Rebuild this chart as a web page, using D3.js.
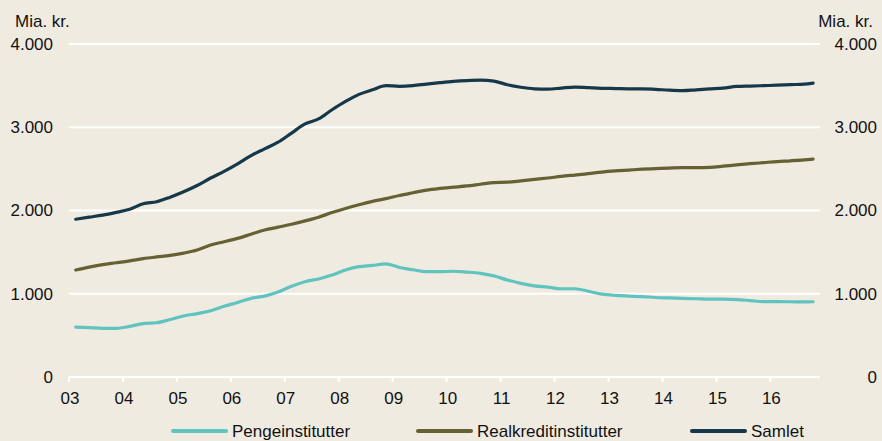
<!DOCTYPE html>
<html>
<head>
<meta charset="utf-8">
<script src="https://cdn.jsdelivr.net/npm/d3@7"></script>
<style>
  body { margin: 0; background: #f0ebe1; }
  text { font-family: "Liberation Sans", Arial, sans-serif; fill: #111; }
</style>
</head>
<body>
<script>
const width = 882;
const height = 441;

// quarterly readings (year-month)
const dates = [
  "2003-02","2003-05","2003-08","2003-11","2004-02","2004-05","2004-08","2004-11",
  "2005-02","2005-05","2005-08","2005-11","2006-02","2006-05","2006-08","2006-11",
  "2007-02","2007-05","2007-08","2007-11","2008-02","2008-05","2008-08","2008-11",
  "2009-02","2009-05","2009-08","2009-11","2010-02","2010-05","2010-08","2010-11",
  "2011-02","2011-05","2011-08","2011-11","2012-02","2012-05","2012-08","2012-11",
  "2013-02","2013-05","2013-08","2013-11","2014-02","2014-05","2014-08","2014-11",
  "2015-02","2015-05","2015-08","2015-11","2016-02","2016-05","2016-08","2016-10"
];

const penge = [
  600, 594, 585, 585, 608, 642, 652, 690,
  732, 762, 795, 850, 895, 945, 972, 1020,
  1090, 1145, 1178, 1225, 1285, 1325, 1340, 1360,
  1315, 1288, 1265, 1265, 1270, 1260, 1245, 1215,
  1165, 1125, 1095, 1080, 1060, 1060, 1030, 995,
  980, 972, 966, 955, 950, 945, 940, 935,
  935, 930, 918, 905, 905, 904, 902, 904
];

const realkredit = [
  1285, 1320, 1350, 1372, 1395, 1422, 1442, 1460,
  1488, 1525, 1585, 1625, 1665, 1715, 1765, 1800,
  1835, 1875, 1920, 1975, 2025, 2070, 2110, 2143,
  2180, 2213, 2245, 2265, 2280, 2295, 2315, 2335,
  2340, 2356, 2373, 2390, 2410, 2426, 2442, 2462,
  2476, 2486, 2496, 2503, 2510, 2515, 2515, 2518,
  2532, 2548, 2562, 2575, 2588, 2597, 2608, 2618
];

const samlet = [
  1895, 1920, 1945, 1978, 2015, 2082, 2105, 2160,
  2225, 2300, 2390, 2470, 2560, 2660, 2740, 2820,
  2930, 3040, 3100, 3210, 3310, 3395, 3450, 3500,
  3492, 3500, 3518, 3535, 3550, 3560, 3565, 3555,
  3510, 3480, 3462, 3458, 3470, 3482, 3475, 3468,
  3465, 3462, 3462, 3455, 3445, 3440, 3450, 3460,
  3470, 3490, 3495, 3500, 3505, 3512, 3518, 3530
];

const yTicks = [0, 1000, 2000, 3000, 4000];
const years = d3.range(2003, 2017);

const series = [
  { name: "Pengeinstitutter", values: penge, color: "#5fc3bf" },
  { name: "Realkreditinstitutter", values: realkredit, color: "#666032" },
  { name: "Samlet", values: samlet, color: "#15394a" }
];

// mid-month position as decimal year
const toYear = s => {
  const [y, m] = s.split("-").map(Number);
  return y + (m - 0.5) / 12;
};

const margin = { left: 69, right: 62, top: 44, bottom: 64 };
const fs = "17px";

const x = d3.scaleLinear()
  .domain([2003, 2016.92])
  .range([margin.left, width - margin.right]);

const y = d3.scaleLinear()
  .domain([0, 4000])
  .range([height - margin.bottom, margin.top]);

const fmt = v => d3.format(",")(v).replace(/,/g, ".");

const svg = d3.select("body")
  .append("svg")
  .attr("width", width)
  .attr("height", height);

svg.append("rect")
  .attr("width", width)
  .attr("height", height)
  .attr("fill", "#f0ebe1");

// gridlines
svg.append("g")
  .selectAll("line")
  .data(yTicks)
  .enter()
  .append("line")
  .attr("x1", x.range()[0])
  .attr("x2", x.range()[1])
  .attr("y1", d => y(d))
  .attr("y2", d => y(d))
  .attr("stroke", "#fff")
  .attr("stroke-width", 2);

// y labels both sides
const yl = svg.append("g").style("font-size", fs);
yl.selectAll(".yl")
  .data(yTicks)
  .enter()
  .append("text")
  .attr("x", 53)
  .attr("y", d => y(d))
  .attr("dy", "0.35em")
  .attr("text-anchor", "end")
  .text(fmt);
yl.selectAll(".yr")
  .data(yTicks)
  .enter()
  .append("text")
  .attr("x", 877)
  .attr("y", d => y(d))
  .attr("dy", "0.35em")
  .attr("text-anchor", "end")
  .text(fmt);

svg.append("text").attr("x", 15).attr("y", 27).style("font-size", fs).text("Mia. kr.");
svg.append("text").attr("x", 873).attr("y", 27).attr("text-anchor", "end").style("font-size", fs).text("Mia. kr.");

// x axis ticks + labels
const xa = svg.append("g");
xa.selectAll("line")
  .data(years)
  .enter()
  .append("line")
  .attr("x1", d => x(d))
  .attr("x2", d => x(d))
  .attr("y1", y(0))
  .attr("y2", y(0) + 5)
  .attr("stroke", "#fff")
  .attr("stroke-width", 2);
xa.selectAll("text")
  .data(years)
  .enter()
  .append("text")
  .attr("x", d => x(d) + 1)
  .attr("y", 404)
  .attr("text-anchor", "middle")
  .style("font-size", fs)
  .text(d => String(d % 100).padStart(2, "0"));

// lines
const line = d3.line()
  .x((d, i) => x(toYear(dates[i])))
  .y(d => y(d))
  .curve(d3.curveMonotoneX);

svg.append("g")
  .selectAll("path")
  .data(series)
  .enter()
  .append("path")
  .attr("d", d => line(d.values))
  .attr("fill", "none")
  .attr("stroke", d => d.color)
  .attr("stroke-width", 3.2)
  .attr("stroke-linecap", "round")
  .attr("stroke-linejoin", "round");

// legend
const legendX = [173, 418, 692];
const lg = svg.append("g")
  .selectAll("g")
  .data(series)
  .enter()
  .append("g")
  .attr("transform", (d, i) => `translate(${legendX[i]},431)`);
lg.append("line")
  .attr("x1", 0).attr("x2", 53)
  .attr("stroke", d => d.color)
  .attr("stroke-width", 4)
  .attr("stroke-linecap", "round");
lg.append("text")
  .attr("x", 59)
  .attr("dy", "0.35em")
  .style("font-size", fs)
  .text(d => d.name);
</script>
</body>
</html>
